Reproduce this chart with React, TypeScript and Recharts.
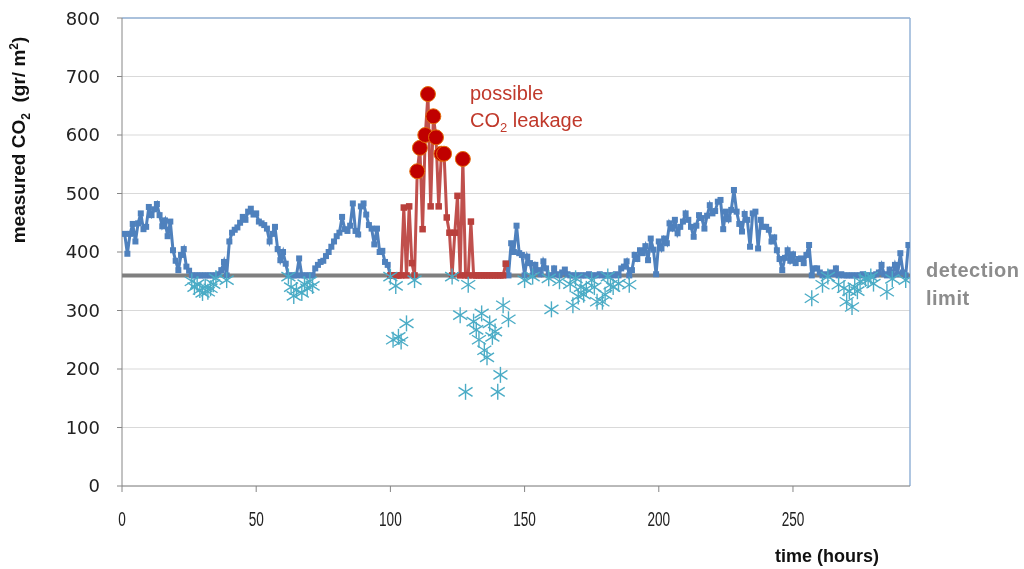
import { ComposedChart, Line, Scatter, XAxis, YAxis, CartesianGrid, ReferenceLine } from 'recharts';

const firstHour = 1;
const leakStart = 100;
const leakEnd = 143;
const detectionLimit = 360;
const xMax = 293.6;
const xTicks = [0, 50, 100, 150, 200, 250];
const yTicks = [0, 100, 200, 300, 400, 500, 600, 700, 800];

// measured CO2, one value per hour (hours 1-99)
const beforeLeak = [
  431, 397, 431, 448, 418, 449, 466, 439, 443, 477,
  463, 473, 482, 463, 444, 454, 427, 452, 403, 385,
  369, 395, 405, 375, 368, 350, 340, 345, 335, 330,
  340, 332, 338, 345, 355, 362, 369, 383, 352, 418,
  433, 438, 442, 450, 460, 455, 469, 474, 464, 466,
  452, 449, 446, 440, 418, 431, 443, 405, 386, 400,
  380, 358, 340, 325, 335, 389, 330, 345, 338, 350,
  342, 372, 378, 383, 385, 393, 400, 409, 418, 427,
  433, 460, 439, 436, 445, 483, 436, 430, 478, 483,
  464, 446, 440, 413, 440, 400, 402, 383, 378,
];

// hours 100-143 (possible leakage)
const leakPeriod = [
  358, 250, 342, 255, 247, 476, 278, 478, 381, 352,
  538, 578, 439, 600, 670, 478, 632, 596, 478, 568,
  568, 459, 433, 358, 433, 496, 292, 559, 161, 344,
  452, 281, 267, 250, 295, 232, 220, 278, 255, 264,
  161, 190, 309, 380,
];

// hours 144-293
const afterLeak = [
  285, 415, 400, 445, 398, 395, 352, 392, 381, 358,
  378, 369, 362, 384, 372, 355, 302, 372, 362, 350,
  365, 370, 362, 345, 309, 355, 324, 340, 327, 337,
  362, 352, 340, 315, 362, 315, 327, 358, 344, 340,
  362, 346, 372, 375, 384, 344, 369, 395, 388, 403,
  398, 410, 386, 423, 404, 362, 418, 406, 423, 415,
  449, 440, 455, 432, 443, 452, 466, 455, 443, 426,
  445, 463, 458, 440, 462, 480, 466, 470, 486, 489,
  439, 469, 456, 472, 506, 469, 448, 435, 465, 455,
  409, 466, 469, 406, 455, 443, 443, 438, 418, 425,
  403, 388, 369, 390, 403, 385, 396, 381, 388, 389,
  381, 395, 412, 321, 372, 372, 365, 344, 362, 358,
  365, 362, 372, 344, 362, 338, 315, 333, 306, 340,
  333, 350, 362, 354, 352, 358, 346, 362, 365, 378,
  362, 332, 370, 354, 378, 362, 398, 365, 352, 412,
];

const measured = [...beforeLeak, ...leakPeriod, ...afterLeak];

const rows = [
  { h: 0, limit: detectionLimit },
  ...measured.map((v, i) => {
    const h = firstHour + i;
    const shown = Math.max(v, detectionLimit);
    return {
      h,
      limit: detectionLimit,
      blue: h <= leakStart || h >= leakEnd ? shown : null,
      red: h >= leakStart && h <= leakEnd ? shown : null,
    };
  }),
  { h: xMax, limit: detectionLimit },
];

const belowPoints = measured
  .map((v, i) => ({ h: firstHour + i, v }))
  .filter((p) => p.v < detectionLimit);

const leakPeaks = measured
  .map((v, i) => ({ h: firstHour + i, v }))
  .filter((p) => p.h >= leakStart && p.h <= leakEnd && p.v > 500);

const squareDot = (color: string, size: number) => (props: any) => {
  const { cx, cy, value, index } = props;
  if (cx == null || cy == null || value == null) return <g key={`e-${color}-${index}`} />;
  return <rect key={`d-${color}-${index}`} x={cx - size / 2} y={cy - size / 2} width={size} height={size} fill={color} />;
};

const Asterisk = (props: any) => {
  const { cx, cy } = props;
  if (cx == null || cy == null) return <g />;
  return (
    <g stroke="#4BACC6" strokeWidth={1.4}>
      <line x1={cx} y1={cy - 8} x2={cx} y2={cy + 8} />
      <line x1={cx - 7} y1={cy - 4.5} x2={cx + 7} y2={cy + 4.5} />
      <line x1={cx - 7} y1={cy + 4.5} x2={cx + 7} y2={cy - 4.5} />
    </g>
  );
};

const PeakDot = (props: any) => {
  const { cx, cy } = props;
  if (cx == null || cy == null) return <g />;
  return <circle cx={cx} cy={cy} r={7.5} fill="#C00000" stroke="#E46C0A" strokeWidth={1} />;
};

// narrow x tick labels, like the original
const NarrowTick = (props: any) => {
  const { x, y, payload } = props;
  return (
    <g transform={`translate(${x},${y})`}>
      <text
        transform="scale(0.68,1)"
        textAnchor="middle"
        dy="0.72em"
        style={{ fontSize: 20, fontFamily: "'Liberation Sans', Arial, sans-serif" }}
        fill="#222"
      >
        {payload.value}
      </text>
    </g>
  );
};

const labelFont = "'Liberation Sans', Arial, sans-serif";

export default function App() {
  // fixed so the page never gets a scrollbar that would cut the right-hand label
  return (
    <div style={{ position: 'fixed', left: 8, top: 8, width: 1016, height: 561 }}>
      <ComposedChart
        width={1016}
        height={561}
        data={rows}
        margin={{ top: 10, right: 114, left: 0, bottom: 43 }}
      >
        <CartesianGrid horizontal vertical={false} stroke="#d9d9d9" />
        <XAxis
          dataKey="h"
          type="number"
          domain={[0, xMax]}
          ticks={xTicks}
          allowDataOverflow
          height={40}
          stroke="#868686"
          tickSize={6}
          tickMargin={20}
          tick={NarrowTick}
        />
        <YAxis
          type="number"
          domain={[0, 800]}
          ticks={yTicks}
          width={114}
          stroke="#868686"
          tickSize={5}
          tickMargin={17}
          tick={{ fill: '#222', fontSize: 18, fontFamily: "'DejaVu Sans', sans-serif" }}
        />
        <ReferenceLine y={800} stroke="#95B3D7" strokeWidth={1.5} />
        <ReferenceLine x={xMax} stroke="#95B3D7" strokeWidth={1.5} />
        <Line
          dataKey="limit"
          stroke="#7f7f7f"
          strokeWidth={4}
          dot={false}
          activeDot={false}
          isAnimationActive={false}
        />
        <Line
          dataKey="blue"
          stroke="#4F81BD"
          strokeWidth={3}
          dot={squareDot('#4F81BD', 6)}
          activeDot={false}
          isAnimationActive={false}
        />
        <Line
          dataKey="red"
          stroke="#C0504D"
          strokeWidth={3}
          dot={squareDot('#B9403C', 6.5)}
          activeDot={false}
          isAnimationActive={false}
        />
        <Scatter data={belowPoints} dataKey="v" shape={Asterisk} isAnimationActive={false} />
        <Scatter data={leakPeaks} dataKey="v" shape={PeakDot} isAnimationActive={false} />
      </ComposedChart>

      <div
        style={{
          position: 'absolute', left: 12, top: 132, transform: 'translate(-50%, -50%) rotate(-90deg)',
          whiteSpace: 'nowrap', fontFamily: labelFont, fontWeight: 'bold', fontSize: 19, color: '#111',
        }}
      >
        measured CO<sub style={{ fontSize: 12 }}>2</sub>&nbsp;&nbsp;(gr/ m<sup style={{ fontSize: 12 }}>2</sup>)
      </div>
      <div
        style={{
          position: 'absolute', left: 819, top: 548, transform: 'translate(-50%, -50%)',
          whiteSpace: 'nowrap', fontFamily: labelFont, fontWeight: 'bold', fontSize: 18, color: '#111',
        }}
      >
        time (hours)
      </div>
      <div style={{ position: 'absolute', left: 462, top: 75, fontFamily: labelFont, fontSize: 20, lineHeight: 1, color: '#C0392B', whiteSpace: 'nowrap' }}>
        possible
      </div>
      <div style={{ position: 'absolute', left: 462, top: 102, fontFamily: labelFont, fontSize: 20, lineHeight: 1, color: '#C0392B', whiteSpace: 'nowrap' }}>
        CO<sub style={{ fontSize: 13 }}>2</sub> leakage
      </div>
      <div style={{ position: 'absolute', left: 918, top: 252, fontFamily: labelFont, fontWeight: 'bold', fontSize: 20, letterSpacing: 0.5, lineHeight: 1, color: '#8c8c8c', whiteSpace: 'nowrap' }}>
        detection
      </div>
      <div style={{ position: 'absolute', left: 918, top: 280, fontFamily: labelFont, fontWeight: 'bold', fontSize: 20, letterSpacing: 0.5, lineHeight: 1, color: '#8c8c8c', whiteSpace: 'nowrap' }}>
        limit
      </div>
    </div>
  );
}
